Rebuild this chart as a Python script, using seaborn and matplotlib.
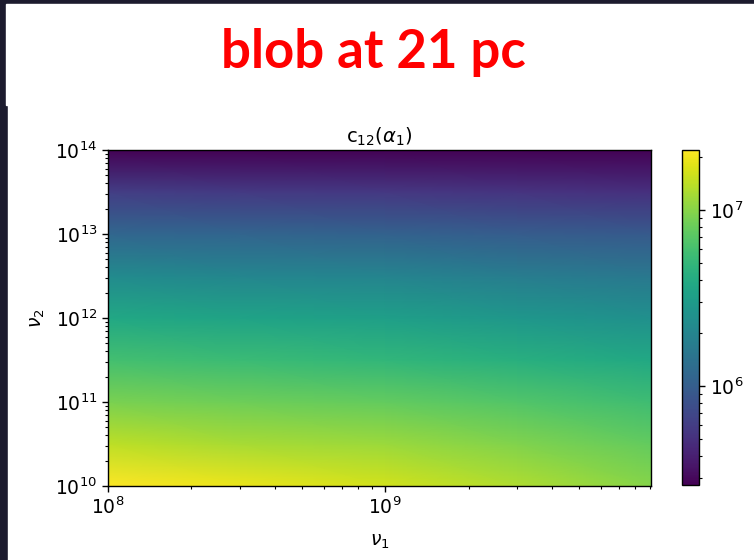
"""
c12(alpha1) map over (nu1, nu2) for the blob at 21 pc.
Values read off the reference figure, shaded with gouraud.
"""
import numpy as np
import matplotlib
matplotlib.use('Agg')
import matplotlib.pyplot as plt
from matplotlib.colors import LogNorm
from matplotlib.patches import Rectangle
import seaborn as sns

sns.set_style('ticks', rc={'text.color': 'black', 'axes.labelcolor': 'black',
                           'xtick.color': 'black', 'ytick.color': 'black',
                           'axes.edgecolor': 'black'})
plt.rcParams['font.family'] = ['DejaVu Sans']
plt.rcParams['mathtext.fontset'] = 'dejavusans'

# ── Data ───────────────────────────────────────────────────────────
nu1 = [1e8, 3e8, 1e9, 3e9, 9.1e9]
nu2 = [1e10, 10**10.5, 1e11, 10**11.5, 1e12, 10**12.5, 1e13, 10**13.5, 1e14]

# rows follow nu2 (bottom -> top), columns follow nu1 (left -> right)
c12_row_1e10_0 = [2.19e7, 1.92e7, 1.61e7, 1.29e7, 9.96e6]
c12_row_1e10_5 = [1.41e7, 1.24e7, 1.14e7, 9.50e6, 7.66e6]
c12_row_1e11_0 = [9.10e6, 8.36e6, 7.66e6, 6.71e6, 5.64e6]
c12_row_1e11_5 = [5.89e6, 5.40e6, 4.94e6, 4.34e6, 3.80e6]
c12_row_1e12_0 = [3.80e6, 3.48e6, 3.19e6, 2.80e6, 2.45e6]
c12_row_1e12_5 = [2.25e6, 2.06e6, 1.97e6, 1.73e6, 1.58e6]
c12_row_1e13_0 = [1.17e6, 1.12e6, 1.07e6, 9.80e5, 9.40e5]
c12_row_1e13_5 = [6.05e5, 5.80e5, 5.55e5, 5.30e5, 5.08e5]
c12_row_1e14_0 = [2.75e5, 2.75e5, 2.75e5, 2.75e5, 2.75e5]

c12 = np.array([c12_row_1e10_0, c12_row_1e10_5, c12_row_1e11_0,
                c12_row_1e11_5, c12_row_1e12_0, c12_row_1e12_5,
                c12_row_1e13_0, c12_row_1e13_5, c12_row_1e14_0])

CBAR_MIN, CBAR_MAX = 2.75e5, 2.19e7

# ── Figure / slide background ──────────────────────────────────────
W, H = 754, 560
fig = plt.figure(figsize=(W / 100, H / 100), dpi=100)
fig.patch.set_facecolor('#1c1b2e')
fig.patches.append(Rectangle((6 / W, (H - 105) / H), 1, (105 - 4) / H,
                             transform=fig.transFigure, color='white', zorder=-5))
fig.patches.append(Rectangle((8 / W, 0), 1, (H - 105) / H + 0.002,
                             transform=fig.transFigure, color='white', zorder=-5))

fig.text(373 / W, (H - 68) / H, 'blob at 21 pc', color='#ff0000',
         fontsize=38, fontweight='bold', family=['Lato', 'DejaVu Sans'],
         ha='center', va='baseline')

ax = fig.add_axes([108 / W, (H - 486) / H, 543 / W, 336 / H])
cax = fig.add_axes([682 / W, (H - 485) / H, 17 / W, 335 / H])

X, Y = np.meshgrid(nu1, nu2)
mesh = ax.pcolormesh(X, Y, c12, shading='gouraud',
                     cmap=sns.color_palette('viridis', as_cmap=True),
                     norm=LogNorm(vmin=CBAR_MIN, vmax=CBAR_MAX))
ax.set_xscale('log')
ax.set_yscale('log')
ax.set_xlim(nu1[0], nu1[-1])
ax.set_ylim(nu2[0], nu2[-1])

ax.set_title(r'c$_{12}$($\alpha_1$)', fontsize=14, pad=5)
ax.set_xlabel(r'$\nu_1$', fontsize=13.5, labelpad=10)
ax.set_ylabel(r'$\nu_2$', fontsize=13.5, labelpad=6)

cb = fig.colorbar(mesh, cax=cax)

for a in (ax, cax):
    a.tick_params(which='major', length=4.2, width=1, labelsize=13.5,
                  color='black', labelcolor='black')
    a.tick_params(which='minor', length=2.4, width=0.8, color='black')
    for s in a.spines.values():
        s.set_linewidth(1)
        s.set_color('black')

fig.savefig('out.png', dpi=100, facecolor=fig.get_facecolor())
